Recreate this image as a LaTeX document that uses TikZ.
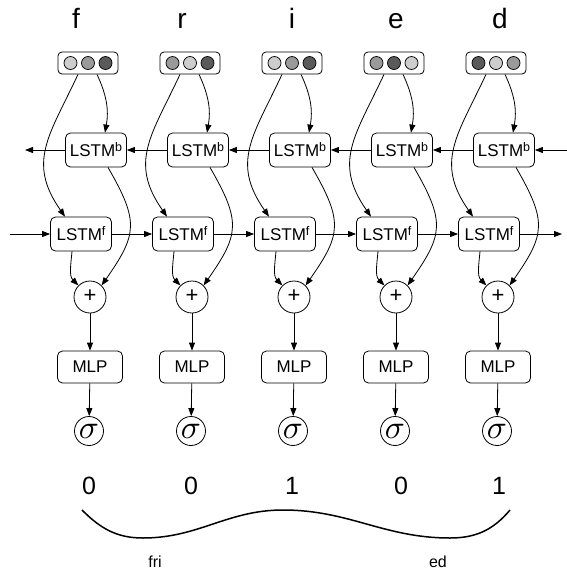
\documentclass[tikz,border=0pt]{standalone}
\usepackage{graphicx}
\usepackage{fontspec}
\setmainfont{Liberation Sans}
\usetikzlibrary{arrows.meta}
\definecolor{lg}{HTML}{CDCDCD}
\definecolor{mg}{HTML}{9A9A9A}
\definecolor{dg}{HTML}{5A5A5A}
\newcommand{\supx}[1]{\raisebox{5pt}{\fontsize{12.5}{12.5}\selectfont #1}}
\begin{document}
\begin{tikzpicture}[x=1pt,y=1pt,
  every node/.style={inner sep=0pt},
  lstm/.style={draw, rounded corners=5pt, minimum width=61pt, minimum height=34pt, line width=0.8pt, font=\fontsize{17}{19}\selectfont},
  mlpbox/.style={draw, rounded corners=5pt, minimum width=65pt, minimum height=32pt, line width=0.8pt, font=\fontsize{17}{19}\selectfont},
  embbox/.style={draw, rounded corners=4pt, minimum width=60pt, minimum height=22pt, line width=0.8pt},
  dot/.style={circle, draw, minimum size=13pt, line width=0.7pt},
  plusnode/.style={circle, draw, minimum size=32pt, line width=0.8pt, font=\fontsize{22}{22}\selectfont},
  signode/.style={circle, draw, minimum size=29pt, line width=0.8pt},
  arr/.style={-{Triangle[length=8pt,width=6pt]}, line width=0.8pt},
  letter/.style={anchor=base, font=\fontsize{28}{30}\selectfont},
  digit/.style={anchor=base, font=\fontsize{25}{27}\selectfont},
  small/.style={anchor=base, font=\fontsize{16}{18}\selectfont},
]
\useasboundingbox (0,0) rectangle (567,-574);

\foreach \i/\c/\ca/\cb/\cc in {1/88/lg/mg/dg, 2/190/mg/lg/dg, 3/292/lg/mg/dg, 4/394/mg/dg/lg, 5/496/dg/lg/mg} {
  \node[embbox] (e\i) at (\c,-63) {};
  \node[dot, fill=\ca] (e\i a) at (\c-17.5,-63) {};
  \node[dot, fill=\cb] (e\i b) at (\c,-63) {};
  \node[dot, fill=\cc] (e\i c) at (\c+17.5,-63) {};
  \node[lstm] (b\i) at (\c+8,-150) {LSTM\supx{b}};
  \node[lstm] (f\i) at (\c-7,-234) {LSTM\supx{f}};
  \node[plusnode] (p\i) at (\c+2,-297) {\raisebox{1pt}{+}};
  \node[mlpbox] (m\i) at (\c+2,-367) {MLP};
  \node[signode] (s\i) at (\c+1,-431) {\scalebox{3.3}{$\sigma$}};
}

\node[letter] (l1) at (76,-28) {f};
\node[letter] (l2) at (182,-28) {r};
\node[letter] (l3) at (292,-28) {i};
\node[letter] (l4) at (396,-28) {e};
\node[letter] (l5) at (500,-28) {d};

\node[digit] (n1) at (89,-494) {0};
\node[digit] (n2) at (191,-494) {0};
\node[digit] (n3) at (292,-494) {1};
\node[digit] (n4) at (401,-494) {0};
\node[digit] (n5) at (499,-494) {1};

\node[small] (fri) at (155,-567) {fri};
\node[small] (ed) at (438,-567) {ed};

\foreach \i in {1,...,5} {
  \draw[arr] ([xshift=-10pt]e\i.south) to[out=-115,in=125,looseness=1.2] ([xshift=-16pt]f\i.north);
  \draw[arr] ([xshift=9pt]e\i.south) to[out=-65,in=80] ([xshift=9pt]b\i.north);
  \draw[arr] ([xshift=12pt]b\i.south) to[out=-60,in=55,looseness=1.35] (p\i.45);
  \draw[arr] ([xshift=-9pt]f\i.south) to[out=-95,in=135] (p\i.135);
  \draw[arr] (p\i) -- (m\i);
  \draw[arr] (m\i) -- (s\i);
}

\coordinate (bl) at (25,-150);
\coordinate (br) at (567,-150);
\coordinate (fl) at (10,-234);
\coordinate (fr) at (562,-234);
\draw[arr] (br) -- (b5.east);
\foreach \i/\j in {2/1,3/2,4/3,5/4} {
  \draw[arr] (b\i.west) -- (b\j.east);
  \draw[arr] (f\j.east) -- (f\i.west);
}
\draw[arr] (b1.west) -- (bl);
\draw[arr] (fl) -- (f1.west);
\draw[arr] (f5.east) -- (fr);

\draw[line width=1.5pt] (82,-510) to[out=-45,in=180] (143,-538) to[out=0,in=180] (283,-510) to[out=0,in=180] (450,-538) to[out=0,in=-130] (510,-510);
\end{tikzpicture}
\end{document}
